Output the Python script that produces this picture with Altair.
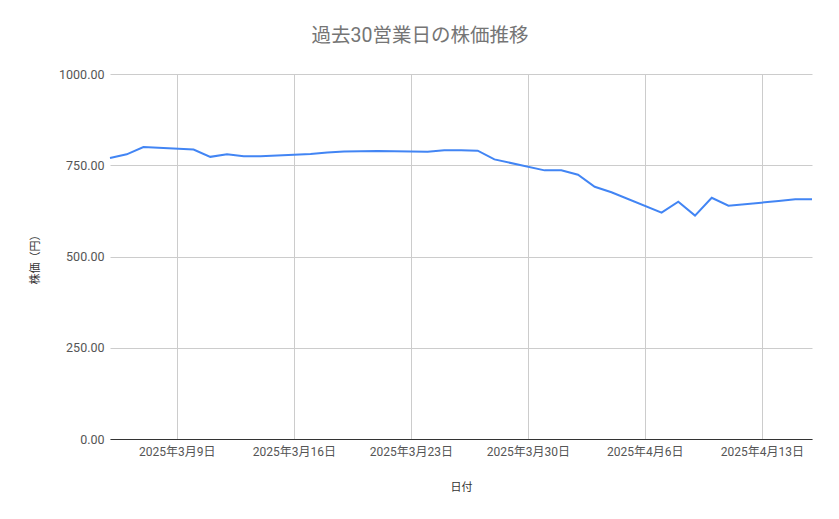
import altair as alt
import pandas as pd

dates = ["2025-03-05", "2025-03-06", "2025-03-07", "2025-03-10", "2025-03-11",
         "2025-03-12", "2025-03-13", "2025-03-14", "2025-03-17", "2025-03-18",
         "2025-03-19", "2025-03-21", "2025-03-24", "2025-03-25", "2025-03-26",
         "2025-03-27", "2025-03-28", "2025-03-31", "2025-04-01", "2025-04-02",
         "2025-04-03", "2025-04-04", "2025-04-07", "2025-04-08", "2025-04-09",
         "2025-04-10", "2025-04-11", "2025-04-14", "2025-04-15", "2025-04-16"]
prices = [770, 780, 800, 793, 773, 780, 775, 775, 781, 785,
          788, 789, 787, 791, 791, 790, 766, 736, 736, 724,
          691, 676, 620, 650, 612, 661, 639, 652, 657, 657]

df = pd.DataFrame({"date": [d + "T00:00:00" for d in dates], "price": prices})

FONT = "Roboto, 'Noto Sans CJK JP', sans-serif"

tick_dates = [alt.DateTime(year=2025, month=3, date=9),
              alt.DateTime(year=2025, month=3, date=16),
              alt.DateTime(year=2025, month=3, date=23),
              alt.DateTime(year=2025, month=3, date=30),
              alt.DateTime(year=2025, month=4, date=6),
              alt.DateTime(year=2025, month=4, date=13)]

chart = alt.Chart(df).mark_line(color="#4285F4", strokeWidth=2).encode(
    x=alt.X("date:T", title="日付",
            scale=alt.Scale(domain=[alt.DateTime(year=2025, month=3, date=5),
                                    alt.DateTime(year=2025, month=4, date=16)]),
            axis=alt.Axis(values=tick_dates, format="%Y年%-m月%-d日",
                          labelAngle=0, ticks=False, labelPadding=7,
                          domainColor="#333333", gridColor="#cccccc",
                          labelColor="#555555", labelFontSize=12,
                          titlePadding=24)),
    y=alt.Y("price:Q", title="株価（円）",
            scale=alt.Scale(domain=[0, 1000], nice=False),
            axis=alt.Axis(values=[0, 250, 500, 750, 1000], format=".2f",
                          ticks=False, domain=False, labelPadding=6,
                          gridColor="#cccccc", labelColor="#555555",
                          labelFontSize=12.5, titlePadding=18)),
).properties(
    width=702, height=365,
    padding={"left": 102, "top": 66, "right": 17, "bottom": 72},
    autosize=alt.AutoSizeParams(type="none"),
    title=alt.TitleParams("過去30営業日の株価推移", fontSize=19.5, color="#757575",
                          fontWeight="normal", anchor="middle", dx=-41, offset=22),
).configure(font=FONT).configure_axis(
    titleFontWeight="normal", titleFontSize=11, titleColor="#333333",
).configure_view(stroke=None)

chart.save("out.html", embed_options={"renderer": "svg", "actions": False})
